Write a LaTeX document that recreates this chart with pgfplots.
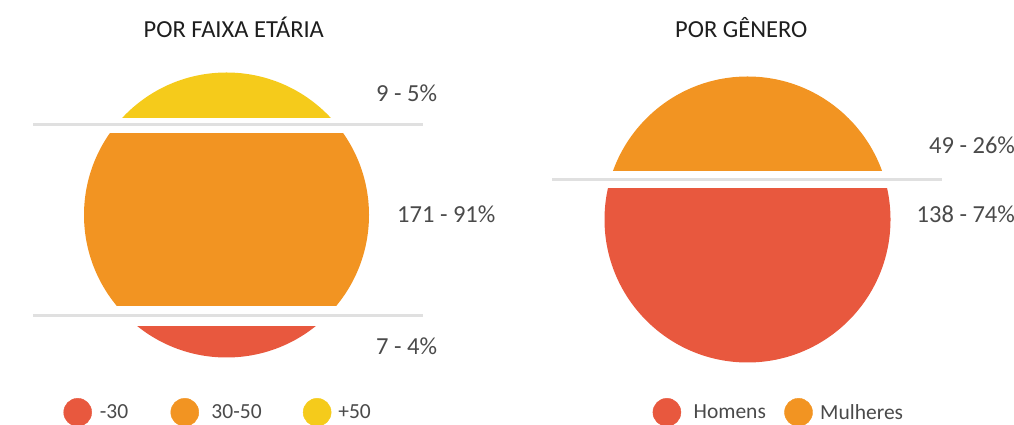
\documentclass[border=0pt]{standalone}
\usepackage{fontspec}
\setmainfont{Carlito}
\usepackage{pgfplots}
\pgfplotsset{compat=1.18}

\definecolor{cred}{HTML}{E8583E}
\definecolor{corange}{HTML}{F29422}
\definecolor{cyellow}{HTML}{F5CB1B}
\definecolor{cline}{HTML}{E0E0E0}
\definecolor{ctext}{HTML}{4A4A4A}
\definecolor{ctitle}{HTML}{1E1E1E}

% 1 unit = 1 px of the 1014x425 picture, y upwards
\pgfplotsset{
  panel/.style={
    hide axis, x=1pt, y=1pt,
    xmin=0, xmax=1014, ymin=0, ymax=425,
    clip=false, at={(0pt,0pt)}, anchor=south west,
    legend columns=-1,
  },
  seg/.style={draw=none, forget plot},
  sep/.style={cline, line width=3pt, forget plot},
}
\newcommand{\lbl}{\fontsize{24.5}{29}\selectfont}
\newcommand{\leg}{\fontsize{21.5}{25}\selectfont}

\begin{document}
\begin{tikzpicture}
\path[use as bounding box] (0pt,0pt) rectangle (1014pt,425pt);
\clip (0pt,0pt) rectangle (1014pt,425pt);

% ---------------- POR FAIXA ETARIA ----------------
\begin{axis}[panel,
  legend image code/.code={\fill[#1] (0pt,0pt) circle (14pt);},
  legend style={at={(axis cs:63.5,12.7)}, anchor=west, draw=none, fill=none,
    inner sep=0pt, outer sep=0pt, font=\leg, text=ctext, nodes={inner sep=0pt},
    /tikz/column 1/.style={column sep=8pt},
    /tikz/column 2/.style={column sep=42.3pt},
    /tikz/column 3/.style={column sep=12.5pt},
    /tikz/column 4/.style={column sep=41.3pt},
    /tikz/column 5/.style={column sep=7pt}},
]
\begin{scope}
\clip (axis cs:226.5,210) circle [radius=142.5pt];
% +50 : 9
\addplot[seg, fill=cyellow] coordinates {(70,306.7) (385,306.7) (385,360) (70,360)};
% 30-50 : 171
\addplot[seg, fill=corange] coordinates {(70,119.3) (385,119.3) (385,292.3) (70,292.3)};
% -30 : 7
\addplot[seg, fill=cred] coordinates {(70,60) (385,60) (385,99) (70,99)};
\end{scope}
\addplot[sep] coordinates {(33,300.7) (423,300.7)};
\addplot[sep] coordinates {(33,109.3) (423,109.3)};

\addlegendimage{cred}\addlegendentry{-30}
\addlegendimage{corange}\addlegendentry{30-50}
\addlegendimage{cyellow}\addlegendentry{+50}

\node[anchor=base, inner sep=0pt, font=\lbl, text=ctitle] at (axis cs:233.8,387.3) {POR FAIXA ETÁRIA};
\node[anchor=base west, inner sep=0pt, font=\lbl, text=ctext] at (axis cs:376,323.3) {9 - 5\%};
\node[anchor=base west, inner sep=0pt, font=\lbl, text=ctext] at (axis cs:397,202.3) {171 - 91\%};
\node[anchor=base west, inner sep=0pt, font=\lbl, text=ctext] at (axis cs:376,70) {7 - 4\%};
\end{axis}

% ---------------- POR GENERO ----------------
\begin{axis}[panel,
  legend image code/.code={\fill[#1] (0pt,0pt) circle (14pt);},
  legend style={at={(axis cs:652.7,12.7)}, anchor=west, draw=none, fill=none,
    inner sep=0pt, outer sep=0pt, font=\leg, text=ctext, nodes={inner sep=0pt},
    /tikz/column 1/.style={column sep=12.5pt},
    /tikz/column 2/.style={column sep=18.4pt},
    /tikz/column 3/.style={column sep=7.5pt}},
]
\begin{scope}
\clip (axis cs:747.5,205.5) circle [radius=143pt];
% Mulheres : 49
\addplot[seg, fill=corange] coordinates {(590,254) (905,254) (905,360) (590,360)};
% Homens : 138
\addplot[seg, fill=cred] coordinates {(590,50) (905,50) (905,236.7) (590,236.7)};
\end{scope}
\addplot[sep] coordinates {(552,245.7) (942,245.7)};

\addlegendimage{cred}\addlegendentry{Homens}
\addlegendimage{corange}\addlegendentry{Mulheres}

\node[anchor=base, inner sep=0pt, font=\lbl, text=ctitle] at (axis cs:741.2,387.3) {POR GÊNERO};
\node[anchor=base west, inner sep=0pt, font=\lbl, text=ctext] at (axis cs:929,271.7) {49 - 26\%};
\node[anchor=base west, inner sep=0pt, font=\lbl, text=ctext] at (axis cs:916.5,202.3) {138 - 74\%};
\end{axis}
\end{tikzpicture}
\end{document}
